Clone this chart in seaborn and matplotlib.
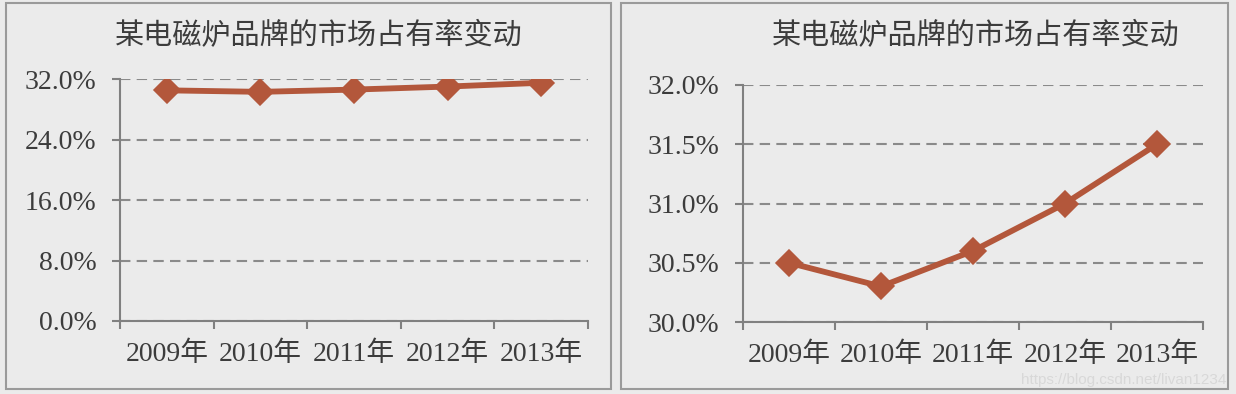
import matplotlib
matplotlib.use("Agg")
import matplotlib.pyplot as plt
import seaborn as sns
import pandas as pd
from matplotlib.patches import Rectangle
from matplotlib.ticker import FixedLocator, FuncFormatter

years = ["2009年", "2010年", "2011年", "2012年", "2013年"]
share = [30.5, 30.3, 30.6, 31.0, 31.5]
title = "某电磁炉品牌的市场占有率变动"
left_yticks = [0.0, 8.0, 16.0, 24.0, 32.0]
right_yticks = [30.0, 30.5, 31.0, 31.5, 32.0]
watermark = "https://blog.csdn.net/livan1234"

sns.set_style("white")
plt.rcParams['font.family'] = ['Liberation Serif', 'Noto Sans CJK SC']

bg = '#ebebeb'
line_color = '#b3573b'
grid_color = '#8a8a8a'
spine_color = '#808080'
text_color = '#3c3c3c'
W, H = 1236, 394

fig = plt.figure(figsize=(W / 100, H / 100), dpi=100, facecolor=bg)
df = pd.DataFrame({"year": years, "share": share})


def px_rect(x0, y0, x1, y1):
    return [x0 / W, 1 - y1 / H, (x1 - x0) / W, (y1 - y0) / H]


def draw(rect, yticks):
    ax = fig.add_axes(rect)
    ax.set_facecolor(bg)
    sns.pointplot(data=df, x="year", y="share", ax=ax, color=line_color,
                  markers="D", linestyles="-", errorbar=None,
                  markersize=11, linewidth=4.2)
    ax.set_xlim(-0.5, len(years) - 0.5)
    ax.set_ylim(yticks[0], yticks[-1])
    ax.set_xlabel("")
    ax.set_ylabel("")
    ax.yaxis.set_major_locator(FixedLocator(yticks))
    ax.yaxis.set_major_formatter(FuncFormatter(lambda v, p: f"{v:.1f}%"))
    ax.set_axisbelow(True)
    ax.yaxis.grid(True, linestyle=(0, (5, 3)), color=grid_color, lw=1.5)
    ax.xaxis.grid(False)
    for s in ["top", "right"]:
        ax.spines[s].set_visible(False)
    for s in ["left", "bottom"]:
        ax.spines[s].set_color(spine_color)
        ax.spines[s].set_linewidth(1.5)
    ax.xaxis.set_minor_locator(FixedLocator([i - 0.5 for i in range(len(years) + 1)]))
    ax.tick_params(axis='x', which='major', length=0, pad=15,
                   labelsize=20, labelcolor=text_color)
    ax.tick_params(axis='x', which='minor', length=6, width=1.5,
                   color=spine_color, direction='out', bottom=True)
    ax.tick_params(axis='y', which='major', length=6, width=1.5,
                   color=spine_color, direction='out', left=True, pad=11,
                   labelsize=20, labelcolor=text_color)
    return ax


draw(px_rect(120, 79, 588, 321), left_yticks)
draw(px_rect(743, 85, 1203, 322), right_yticks)

fig.text(319 / W, 1 - 36 / H, title, ha='center', va='center',
         fontsize=21, color=text_color, family=['Noto Sans CJK SC'])
fig.text(976 / W, 1 - 36 / H, title, ha='center', va='center',
         fontsize=21, color=text_color, family=['Noto Sans CJK SC'])

for (x0, x1) in [(6, 611), (621, 1228)]:
    fig.patches.append(Rectangle((x0 / W, 1 - 389 / H), (x1 - x0) / W, 386 / H,
                                 transform=fig.transFigure, fill=False,
                                 edgecolor='#9a9a9a', lw=1.5))

fig.text(1226 / W, 1 - 380 / H, watermark, ha='right', va='center',
         fontsize=11, color='#d8d8d8', family=['Liberation Sans'])

fig.savefig("out.png", dpi=100, facecolor=bg)
